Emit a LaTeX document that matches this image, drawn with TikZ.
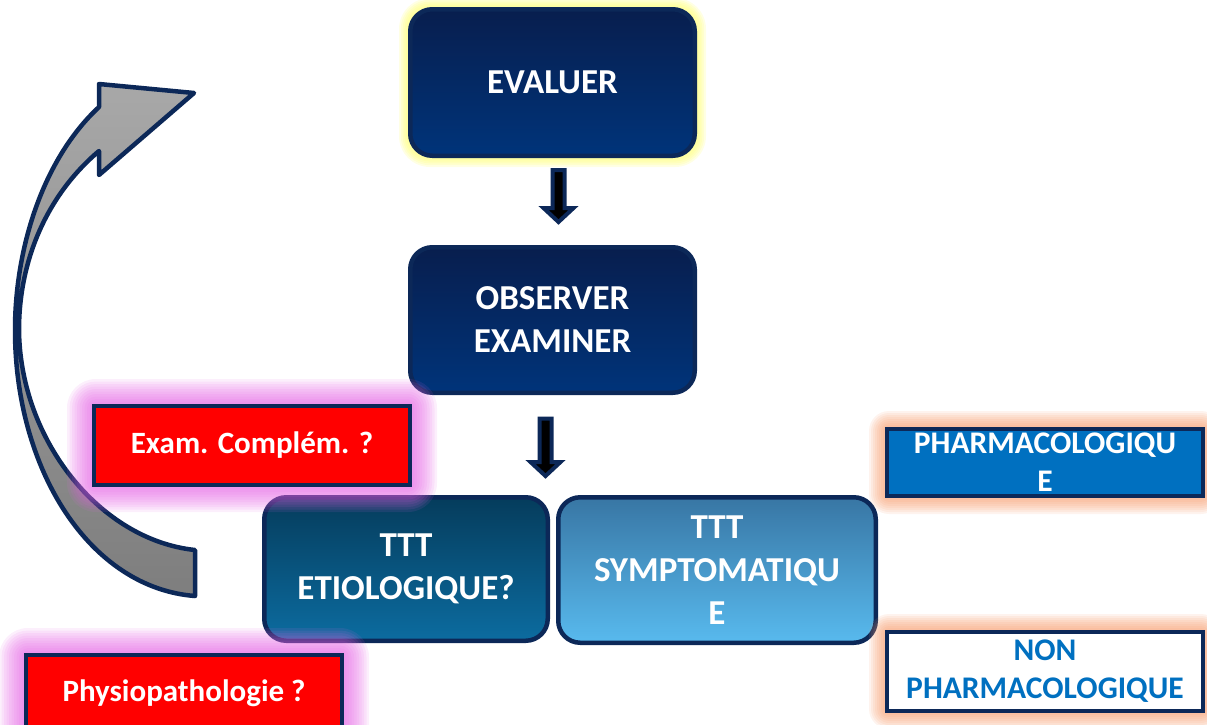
\documentclass[tikz,border=0pt]{standalone}
\usepackage{fontspec}
\setmainfont{Carlito}
\usetikzlibrary{calc}
\definecolor{navy}{RGB}{12,40,88}
\definecolor{evtop}{RGB}{8,30,78}
\definecolor{evbot}{RGB}{0,52,122}
\definecolor{ettop}{RGB}{5,60,92}
\definecolor{etbot}{RGB}{12,108,160}
\definecolor{sytop}{RGB}{56,118,164}
\definecolor{sybot}{RGB}{88,186,238}
\definecolor{pharmablue}{RGB}{0,112,192}
\definecolor{glowyellow}{RGB}{255,255,120}
\definecolor{glowpink}{RGB}{228,96,228}
\definecolor{gloworange}{RGB}{246,150,100}
\definecolor{arrowtop}{RGB}{168,168,168}
\definecolor{arrowbot}{RGB}{126,126,126}
% #1 colour, #2-#5 box, #6 steps, #7 opacity, #8 step size, #9 base radius
\newcommand{\glowrect}[9]{%
  \foreach \k in {1,...,#6}{%
    \fill[#1, opacity=#7, rounded corners={#9+\k*#8}]
      ({#2-\k*#8},{#3-\k*#8}) rectangle ({#4+\k*#8},{#5+\k*#8});
  }%
}
\tikzset{
  bigbox/.style={draw=navy, line width=4.5, rounded corners=22, text=white,
    font=\bfseries\fontsize{35}{43}\selectfont, align=center, inner sep=0},
  redbox/.style={draw=navy, line width=4, fill=red, text=white,
    font=\bfseries\fontsize{31}{38}\selectfont, align=center, inner sep=0},
  bluebox/.style={draw=navy, line width=4, align=center, inner sep=0,
    font=\bfseries\fontsize{31.5}{38}\selectfont},
  barrow/.style={draw=navy, line width=4, fill=black, line join=miter},
  curvearrow/.style={draw=navy, line width=4.5, top color=arrowtop,
    bottom color=arrowbot, line join=round},
}
\begin{document}
\begin{tikzpicture}[x=1pt, y=-1pt]
\useasboundingbox (0,0) rectangle (1207,724);
\clip (0,0) rectangle (1207,724);

% curved return arrow
\draw[curvearrow] (195,596) .. controls (90,588) and (15,470) .. (15,330)
  .. controls (15,250) and (42,160) .. (99,107) -- (99,84) -- (194,93)
  -- (99,175) -- (99,151) .. controls (47,195) and (19,260) .. (19,330)
  .. controls (20,440) and (100,540) .. (195,550) -- cycle;

% yellow glow around EVALUER
\glowrect{glowyellow}{408}{7}{697}{158}{5}{0.2}{1.8}{22}
\node[bigbox, top color=evtop, bottom color=evbot,
  minimum width=284.5, minimum height=146.5] (ev) at (552.5,82.5) {EVALUER};

\node[bigbox, top color=evtop, bottom color=evbot,
  minimum width=284.5, minimum height=145.5] (ob) at (552.5,320)
  {OBSERVER\\EXAMINER};

\node[bigbox, top color=ettop, bottom color=etbot,
  minimum width=283.5, minimum height=143.5] (et) at (406,569)
  {TTT\\ETIOLOGIQUE?};

\node[bigbox, top color=sytop, bottom color=sybot,
  minimum width=317.5, minimum height=145.5] (sy) at (717,570)
  {TTT\\SYMPTOMATIQU\\E};

% block arrows
\coordinate (t1) at ($(ev.south)+(6,12)$);
\coordinate (h1) at ($(ob.north)+(6,-23)$);
\draw[barrow] ($(t1)+(-6,0)$) -- ($(h1)+(-6,-14)$) -- ($(h1)+(-15,-14)$)
  -- (h1) -- ($(h1)+(15,-14)$) -- ($(h1)+(6,-14)$) -- ($(t1)+(6,0)$) -- cycle;

\coordinate (t2) at ($(ob.south)+(-7,23.5)$);
\coordinate (h2) at ($(ob.south)+(-7,81)$);
\draw[barrow] ($(t2)+(-6,0)$) -- ($(h2)+(-6,-14)$) -- ($(h2)+(-15,-14)$)
  -- (h2) -- ($(h2)+(15,-14)$) -- ($(h2)+(6,-14)$) -- ($(t2)+(6,0)$) -- cycle;

% pink glows and red boxes
\glowrect{glowpink}{92}{404}{412}{487}{10}{0.1}{2.5}{4}
\node[redbox, minimum width=316, minimum height=79] (ex) at (252,445.5)
  {Exam. Complém. ?};

\glowrect{glowpink}{24}{653}{344}{733}{10}{0.1}{2.5}{4}
\node[redbox, minimum width=316, minimum height=76] (ph) at (184,693)
  {Physiopathologie ?};

% orange glows and right boxes
\glowrect{gloworange}{885}{427}{1205}{498}{8}{0.11}{2}{4}
\node[bluebox, fill=pharmablue, text=white, minimum width=316,
  minimum height=67] (pa) at (1045,462.5) {PHARMACOLOGIQU\\E};

\glowrect{gloworange}{885}{630}{1205}{713}{8}{0.11}{2}{4}
\node[bluebox, fill=white, text=pharmablue, minimum width=316,
  minimum height=79] (np) at (1045,671.5) {NON\\PHARMACOLOGIQUE};
\end{tikzpicture}
\end{document}
